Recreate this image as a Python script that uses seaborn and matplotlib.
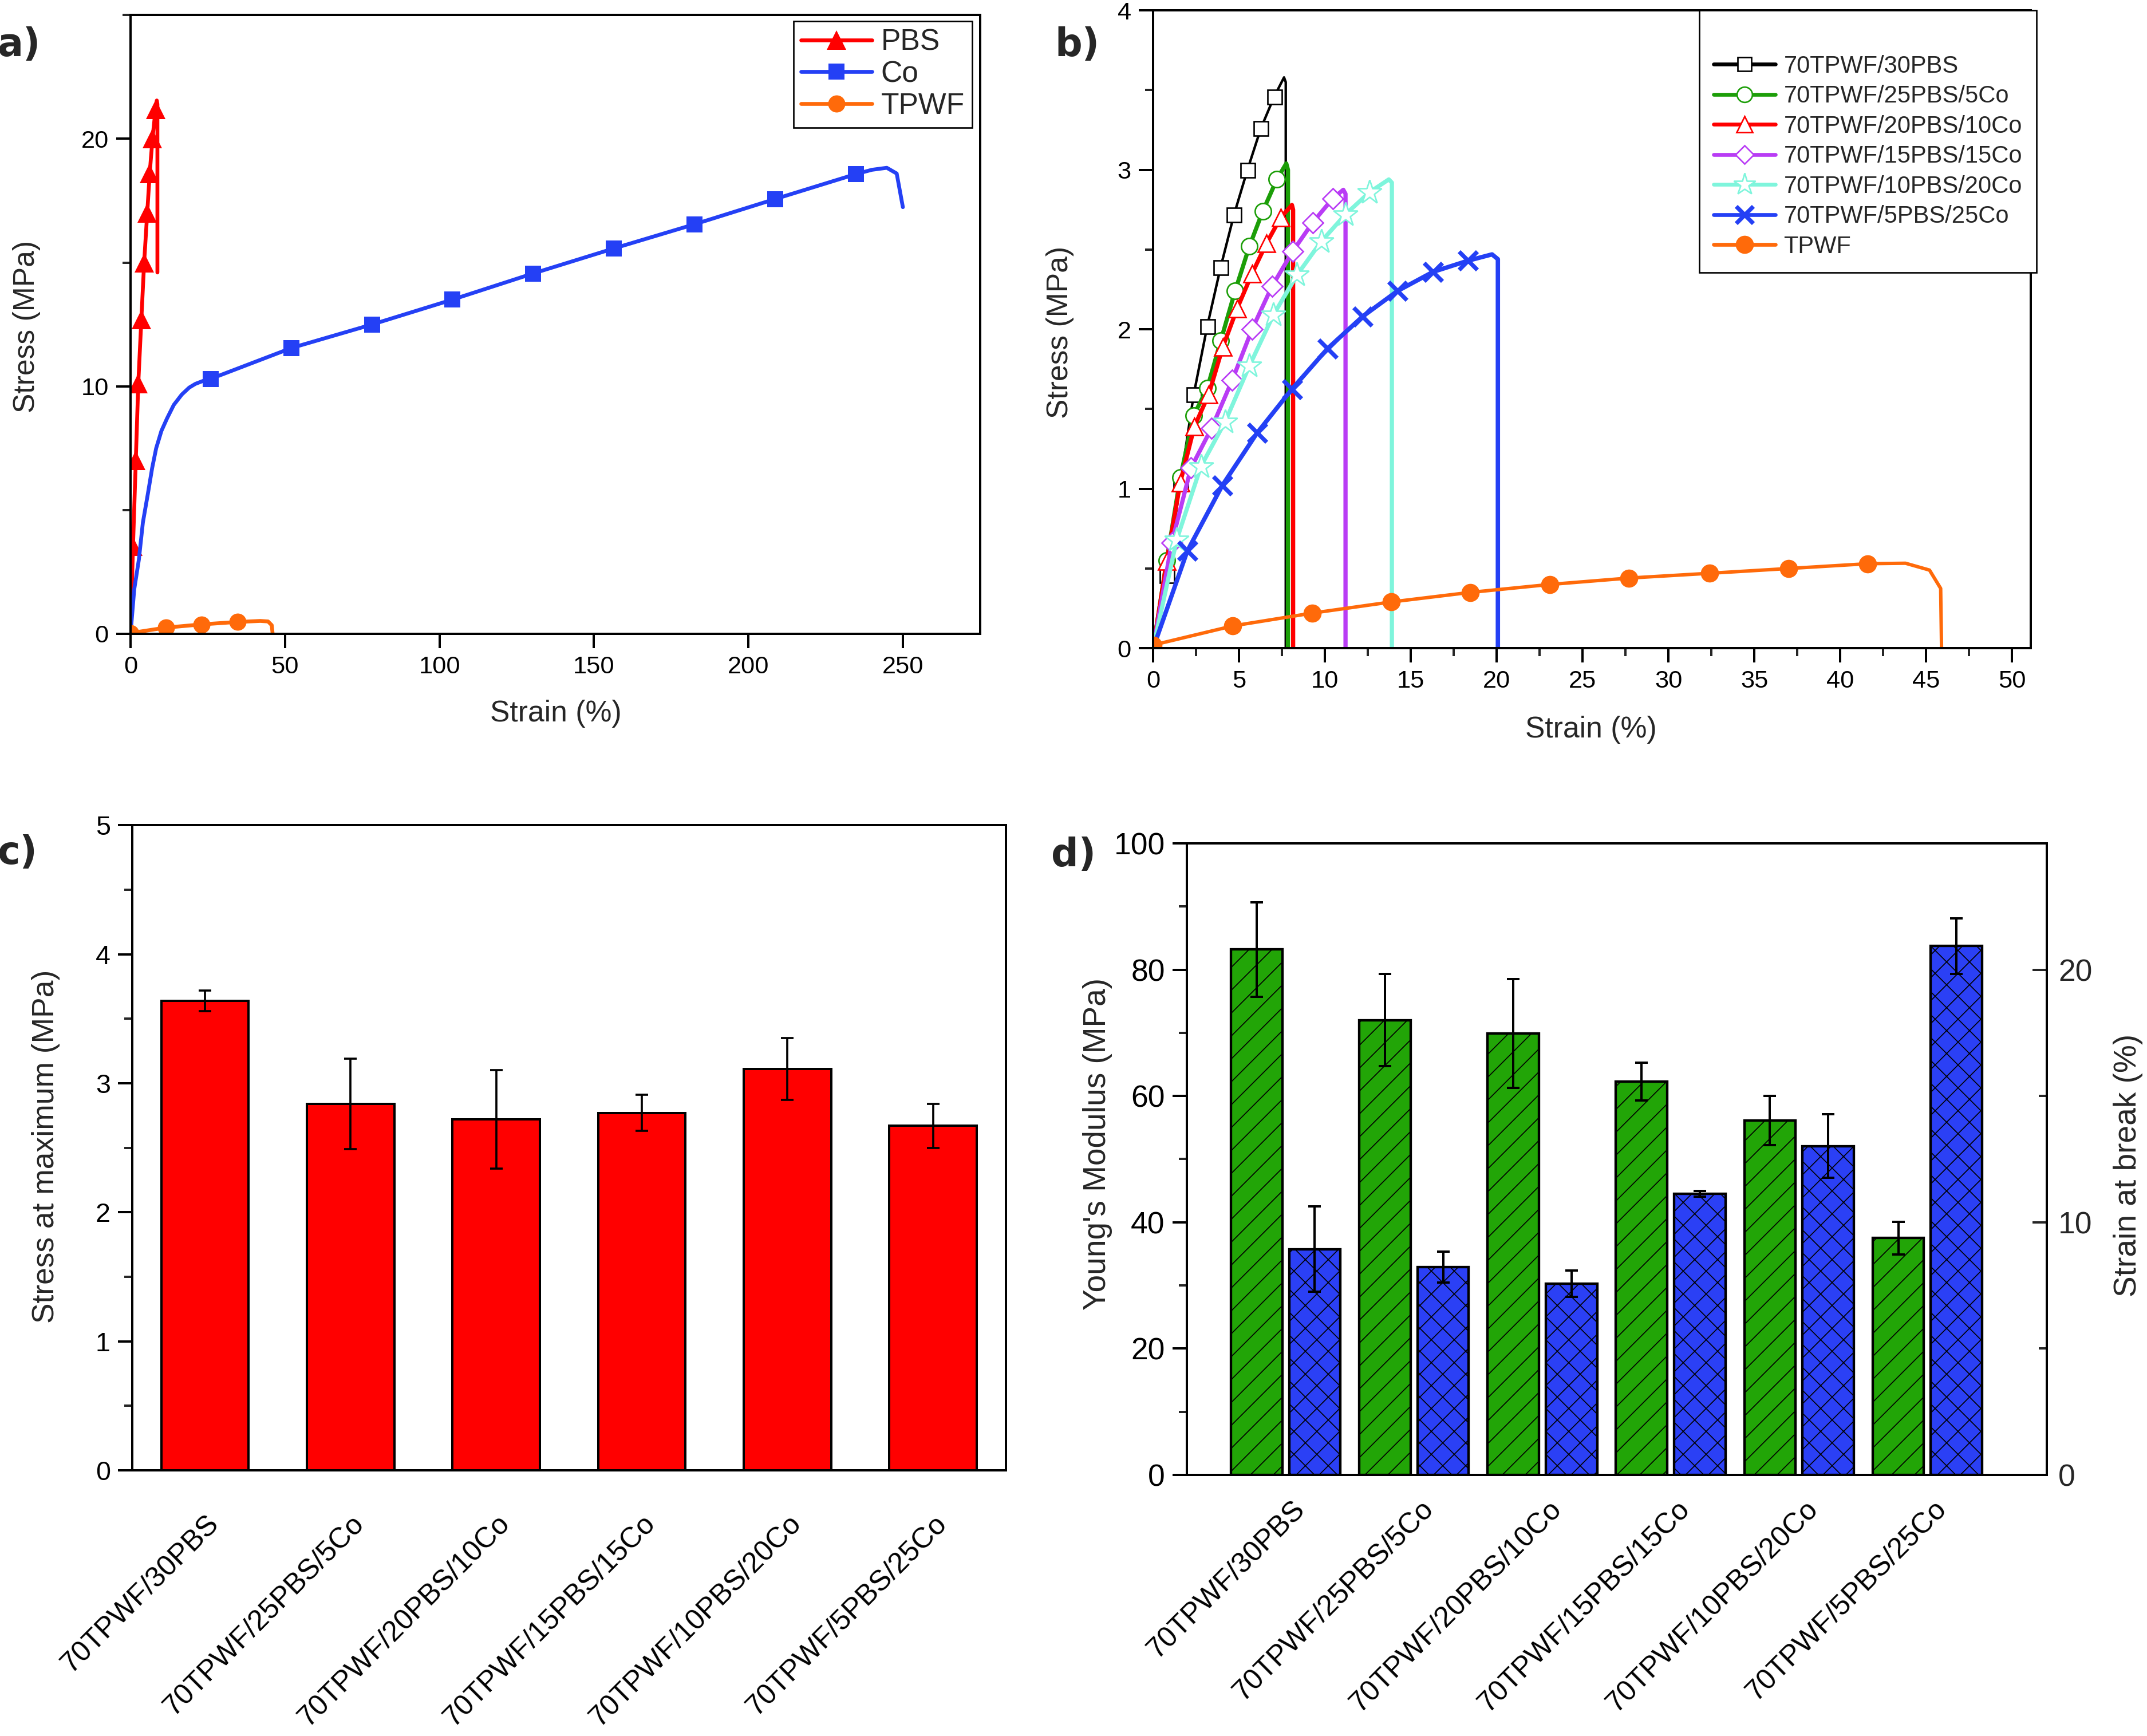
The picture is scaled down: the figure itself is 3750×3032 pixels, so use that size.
import numpy as np
import pandas as pd
import matplotlib
matplotlib.use('Agg')
import matplotlib.pyplot as plt
import matplotlib.transforms as mtransforms
from matplotlib.lines import Line2D
from matplotlib.ticker import MultipleLocator
from matplotlib import font_manager as fm
import seaborn as sns

# ---------------- data ----------------
samples = ['70TPWF/30PBS', '70TPWF/25PBS/5Co', '70TPWF/20PBS/10Co',
           '70TPWF/15PBS/15Co', '70TPWF/10PBS/20Co', '70TPWF/5PBS/25Co']

# panel a: neat components
pbs_x = [0, 0.8, 1.7, 2.5, 3.5, 4.4, 5.4, 6.2, 7.1, 8.1, 8.5, 8.7, 8.7]
pbs_y = [0, 3.55, 7.0, 10.1, 12.7, 15.0, 17.0, 18.6, 20.0, 21.2, 21.55, 21.4, 14.6]
co_x = [0, 1.2, 2.7, 4.0, 5.6, 7.0, 8.3, 10.0, 11.8, 14.0, 16.6, 19.0, 21.0, 23.5, 25.9,
        52.1, 78.2, 104.1, 130.3, 156.4, 182.6, 208.7, 234.9, 240.0, 244.8, 248.0, 250.0]
co_y = [0, 1.8, 3.0, 4.5, 5.65, 6.7, 7.5, 8.2, 8.7, 9.25, 9.67, 9.95, 10.1, 10.22, 10.3,
        11.55, 12.5, 13.5, 14.56, 15.57, 16.55, 17.57, 18.58, 18.75, 18.83, 18.6, 17.24]
tpwf_a_x = [0, 11.4, 23.0, 34.6, 42.0, 44.5, 45.7, 46.0]
tpwf_a_y = [0.03, 0.25, 0.38, 0.48, 0.52, 0.50, 0.35, 0]

# panel b: blends
b30_x = [0, 0.79, 1.58, 2.36, 3.15, 3.93, 4.71, 5.49, 6.27, 7.05, 7.62, 7.72, 7.72]
b30_y = [0, 0.455, 1.03, 1.59, 2.02, 2.39, 2.72, 3.00, 3.26, 3.46, 3.58, 3.55, 0]
b25_x = [0, 0.79, 1.58, 2.36, 3.15, 3.94, 4.77, 5.6, 6.38, 7.2, 7.75, 7.85, 7.85]
b25_y = [0, 0.55, 1.07, 1.46, 1.63, 1.93, 2.24, 2.52, 2.74, 2.94, 3.04, 3.0, 0]
b20_x = [0, 0.79, 1.58, 2.4, 3.23, 4.06, 4.89, 5.76, 6.6, 7.42, 8.08, 8.15, 8.15]
b20_y = [0, 0.545, 1.04, 1.39, 1.59, 1.89, 2.13, 2.35, 2.54, 2.70, 2.78, 2.75, 0]
b15_x = [0, 1.08, 2.2, 3.4, 4.6, 5.76, 6.92, 8.13, 9.29, 10.45, 11.07, 11.2, 11.2]
b15_y = [0, 0.66, 1.13, 1.38, 1.68, 2.0, 2.27, 2.49, 2.67, 2.82, 2.875, 2.85, 0]
b10_x = [0, 1.37, 2.78, 4.19, 5.6, 7.0, 8.37, 9.78, 11.19, 12.6, 13.72, 13.9, 13.9]
b10_y = [0, 0.68, 1.14, 1.42, 1.77, 2.09, 2.34, 2.55, 2.72, 2.86, 2.94, 2.92, 0]
b5_x = [0, 1.99, 4.02, 6.05, 8.08, 10.16, 12.19, 14.22, 16.29, 18.32, 19.73, 20.07, 20.07]
b5_y = [0, 0.61, 1.02, 1.35, 1.625, 1.88, 2.08, 2.24, 2.36, 2.43, 2.47, 2.44, 0]
tpwf_b_x = [0, 4.64, 9.25, 13.85, 18.45, 23.1, 27.7, 32.4, 37.0, 41.6, 43.8, 45.2, 45.85, 45.9]
tpwf_b_y = [0.02, 0.14, 0.22, 0.29, 0.35, 0.40, 0.44, 0.47, 0.50, 0.53, 0.533, 0.49, 0.375, 0]

# panel c: stress at maximum
stress_max = [3.64, 2.84, 2.72, 2.77, 3.11, 2.67]
stress_err = [0.08, 0.35, 0.38, 0.14, 0.24, 0.17]

# panel d: modulus (left axis) and strain at break (right axis)
modulus = [83.2, 72.0, 69.9, 62.3, 56.1, 37.5]
modulus_err = [7.5, 7.3, 8.6, 3.0, 3.9, 2.6]
strain_break = [8.94, 8.23, 7.57, 11.13, 13.02, 20.94]
strain_err = [1.68, 0.62, 0.52, 0.12, 1.26, 1.1]

# ---------------- style ----------------
sns.set_theme(style='ticks')
names = {f.name for f in fm.fontManager.ttflist}
narrow = 'Liberation Sans Narrow' if 'Liberation Sans Narrow' in names else 'Liberation Sans'
plt.rcParams['font.family'] = ['Liberation Sans', 'DejaVu Sans']
plt.rcParams['axes.linewidth'] = 1.2
plt.rcParams['hatch.linewidth'] = 0.5
plt.rcParams['hatch.color'] = 'black'
plt.rcParams['axes.edgecolor'] = 'black'

RED = '#ff0000'
BLUE = '#2440f5'
ORANGE = '#ff6a0a'
GREEN_L = '#1c9e08'
MAGENTA = '#b93cf5'
CYAN = '#7ff5dc'
GREEN_BAR = '#22a507'
BLUE_BAR = '#2b40f5'

fig = plt.figure(figsize=(3750 / 240, 3032 / 240), dpi=240)

ax_a = fig.add_axes([0.0608, 0.6349, 0.3957, 0.3564])
ax_b = fig.add_axes([0.5371, 0.6266, 0.4088, 0.3674])
ax_c = fig.add_axes([0.0616, 0.1530, 0.4069, 0.3717])
ax_d = fig.add_axes([0.5528, 0.1504, 0.4005, 0.3638])


def style_ticks(ax, size, family=None):
    ax.tick_params(which='major', length=7.5, width=1.2, direction='out', labelsize=size, pad=4,
                   colors='black')
    ax.tick_params(which='minor', length=4.2, width=1.2, direction='out')
    if family:
        for lab in ax.get_xticklabels() + ax.get_yticklabels():
            lab.set_family(family)


def curve(ax, x, y, color, lw, marker, ms, every, mfc=None, mew=1.0):
    sns.lineplot(x=x, y=y, ax=ax, color=color, lw=lw, marker=marker, ms=ms,
                 markevery=every, mfc=mfc if mfc else color, mec=color, mew=mew,
                 sort=False, estimator=None, errorbar=None)


# ---------------- panel a ----------------
curve(ax_a, pbs_x, pbs_y, RED, 2.0, '^', 10, list(range(1, 10)), mew=0)
curve(ax_a, co_x, co_y, BLUE, 2.0, 's', 8.5, list(range(14, 23)), mew=0)
curve(ax_a, tpwf_a_x, tpwf_a_y, ORANGE, 2.0, 'o', 9, [0, 1, 2, 3], mew=0)
ax_a.set_xlim(0, 275)
ax_a.set_ylim(0, 25)
ax_a.xaxis.set_major_locator(MultipleLocator(50))
ax_a.yaxis.set_major_locator(MultipleLocator(10))
ax_a.yaxis.set_minor_locator(MultipleLocator(5))
ax_a.set(xlabel='', ylabel='')
style_ticks(ax_a, 13)
h_a = [Line2D([], [], color=RED, lw=2.0, marker='^', ms=10, mew=0),
       Line2D([], [], color=BLUE, lw=2.0, marker='s', ms=8.5, mew=0),
       Line2D([], [], color=ORANGE, lw=2.0, marker='o', ms=9, mew=0)]
leg = ax_a.legend(h_a, ['PBS', 'Co', 'TPWF'], loc='upper right', bbox_to_anchor=(0.9906, 0.9903),
                  borderaxespad=0, fontsize=15.5, frameon=True, fancybox=False, framealpha=1,
                  edgecolor='black', labelspacing=0.13, handlelength=2.4, handletextpad=0.3,
                  borderpad=0.25)
leg.get_frame().set_linewidth(0.8)

# ---------------- panel b ----------------
m9 = list(range(1, 10))
curve(ax_b, b30_x, b30_y, 'black', 1.3, 's', 7.5, m9, mfc='white', mew=0.8)
curve(ax_b, b25_x, b25_y, GREEN_L, 2.2, 'o', 8.5, m9, mfc='white', mew=0.8)
curve(ax_b, b20_x, b20_y, RED, 2.2, '^', 9, m9, mfc='white', mew=0.8)
curve(ax_b, b15_x, b15_y, MAGENTA, 2.2, 'D', 7.5, m9, mfc='white', mew=0.8)
curve(ax_b, b10_x, b10_y, CYAN, 2.2, '*', 13, m9, mfc='white', mew=0.8)
curve(ax_b, b5_x, b5_y, BLUE, 2.3, 'x', 9.5, m9, mew=2.2)
curve(ax_b, tpwf_b_x, tpwf_b_y, ORANGE, 1.8, 'o', 9.5, list(range(0, 10)), mew=0)
ax_b.set_xlim(0, 51.1)
ax_b.set_ylim(0, 4)
ax_b.xaxis.set_major_locator(MultipleLocator(5))
ax_b.xaxis.set_minor_locator(MultipleLocator(2.5))
ax_b.yaxis.set_major_locator(MultipleLocator(1))
ax_b.yaxis.set_minor_locator(MultipleLocator(0.5))
ax_b.set(xlabel='', ylabel='')
style_ticks(ax_b, 13)
h_b = [Line2D([], [], color='black', lw=2.0, marker='s', ms=7, mfc='white', mec='black', mew=0.8),
       Line2D([], [], color=GREEN_L, lw=2.0, marker='o', ms=8, mfc='white', mec=GREEN_L, mew=0.8),
       Line2D([], [], color=RED, lw=2.0, marker='^', ms=8.5, mfc='white', mec=RED, mew=0.8),
       Line2D([], [], color=MAGENTA, lw=2.0, marker='D', ms=7, mfc='white', mec=MAGENTA, mew=0.8),
       Line2D([], [], color=CYAN, lw=2.0, marker='*', ms=12, mfc='white', mec=CYAN, mew=0.8),
       Line2D([], [], color=BLUE, lw=2.0, marker='x', ms=9, mew=2.2),
       Line2D([], [], color=ORANGE, lw=2.0, marker='o', ms=9.5, mew=0)]
leg = ax_b.legend(h_b, samples + ['TPWF'], loc='upper right', bbox_to_anchor=(1.0065, 1.0),
                  borderaxespad=0, fontsize=12.5, title=' ', title_fontsize=13, frameon=True,
                  fancybox=False, framealpha=1, edgecolor='black', labelspacing=0.3,
                  handlelength=2.6, handletextpad=0.35, borderpad=0.6)
leg.get_frame().set_linewidth(0.8)

# ---------------- panel c ----------------
sns.barplot(x=samples, y=stress_max, ax=ax_c, color=RED, saturation=1, width=0.6,
            edgecolor='black', linewidth=1.2, errorbar=None)
ax_c.errorbar(np.arange(len(samples)), stress_max, yerr=stress_err, fmt='none',
              ecolor='black', elinewidth=1.1, capsize=3.2, capthick=1.1)
ax_c.set_xlim(-0.5, 5.5)
ax_c.set_ylim(0, 5)
ax_c.yaxis.set_major_locator(MultipleLocator(1))
ax_c.yaxis.set_minor_locator(MultipleLocator(0.5))
ax_c.set(xlabel='', ylabel='')
style_ticks(ax_c, 14)
ax_c.tick_params(axis='x', length=0, pad=21)
ax_c.set_xticks(range(len(samples)))
ax_c.set_xticklabels(samples, rotation=45, ha='right', rotation_mode='anchor', fontsize=15)

# ---------------- panel d ----------------
d_mod = pd.DataFrame({'sample': samples, 'kind': 'mod', 'value': modulus})
d_str = pd.DataFrame({'sample': samples, 'kind': 'strain', 'value': strain_break})
kinds = ['mod', 'strain']
pal = {'mod': GREEN_BAR, 'strain': BLUE_BAR}
bw = 0.906
sns.barplot(data=d_mod, x='sample', y='value', hue='kind', hue_order=kinds, palette=pal,
            width=bw, gap=0.117, dodge=True, saturation=1, edgecolor='black', linewidth=1.3,
            errorbar=None, legend=False, ax=ax_d)
ax_d2 = ax_d.twinx()
sns.barplot(data=d_str, x='sample', y='value', hue='kind', hue_order=kinds, palette=pal,
            width=bw, gap=0.117, dodge=True, saturation=1, edgecolor='black', linewidth=1.3,
            errorbar=None, legend=False, ax=ax_d2)
for p in ax_d.patches:
    p.set_hatch('//')
for p in ax_d2.patches:
    p.set_hatch('xx')
off = bw / 4
ax_d.errorbar(np.arange(len(samples)) - off, modulus, yerr=modulus_err, fmt='none',
              ecolor='black', elinewidth=1.2, capsize=3.2, capthick=1.2)
ax_d2.errorbar(np.arange(len(samples)) + off, strain_break, yerr=strain_err, fmt='none',
               ecolor='black', elinewidth=1.2, capsize=3.2, capthick=1.2)
ax_d.set_ylim(0, 100)
ax_d2.set_ylim(0, 25)
ax_d.set_xlim(-0.77, 5.93)
ax_d.yaxis.set_major_locator(MultipleLocator(20))
ax_d.yaxis.set_minor_locator(MultipleLocator(10))
ax_d2.yaxis.set_major_locator(MultipleLocator(10))
ax_d2.yaxis.set_minor_locator(MultipleLocator(5))
for a in (ax_d, ax_d2):
    a.set(xlabel='', ylabel='')
style_ticks(ax_d, 16, narrow)
ax_d2.tick_params(which='major', length=7.5, width=1.2, direction='in', labelsize=16, pad=6)
ax_d2.tick_params(which='minor', length=4.2, width=1.2, direction='in')
for lab in ax_d2.get_yticklabels():
    lab.set_family(narrow)
ax_d.tick_params(axis='x', length=0, pad=11)
ax_d.set_xticks(range(len(samples)))
ax_d.set_xticklabels(samples, rotation=45, ha='right', rotation_mode='anchor', fontsize=15,
                     family=narrow)
shift = mtransforms.ScaledTranslation(10 / 240, 0, fig.dpi_scale_trans)
for lab in ax_d.get_xticklabels():
    lab.set_transform(lab.get_transform() + shift)

# ---------------- axis titles and panel letters ----------------
fig.text(0.0123, 0.812, 'Stress (MPa)', rotation=90, ha='center', va='center', fontsize=15.5)
fig.text(0.2589, 0.589, 'Strain (%)', ha='center', va='center', fontsize=15.5)
fig.text(0.4936, 0.8087, 'Stress (MPa)', rotation=90, ha='center', va='center', fontsize=15.5)
fig.text(0.741, 0.5795, 'Strain (%)', ha='center', va='center', fontsize=15.5)
fig.text(0.0214, 0.3397, 'Stress at maximum (MPa)', rotation=90, ha='center', va='center',
         fontsize=16)
fig.text(0.5112, 0.341, "Young's Modulus (MPa)", rotation=90, ha='center', va='center',
         fontsize=16.5)
fig.text(0.9912, 0.3288, 'Strain at break (%)', rotation=90, ha='center', va='center',
         fontsize=16.5)

for x, y, t in [(0.0088, 0.974, 'a)'), (0.5016, 0.974, 'b)'),
                (0.008, 0.5086, 'c)'), (0.500, 0.5073, 'd)')]:
    fig.text(x, y, t, ha='center', va='center', fontsize=20, fontweight='bold',
             family=['DejaVu Sans'])

fig.savefig('out.png', dpi=240)
